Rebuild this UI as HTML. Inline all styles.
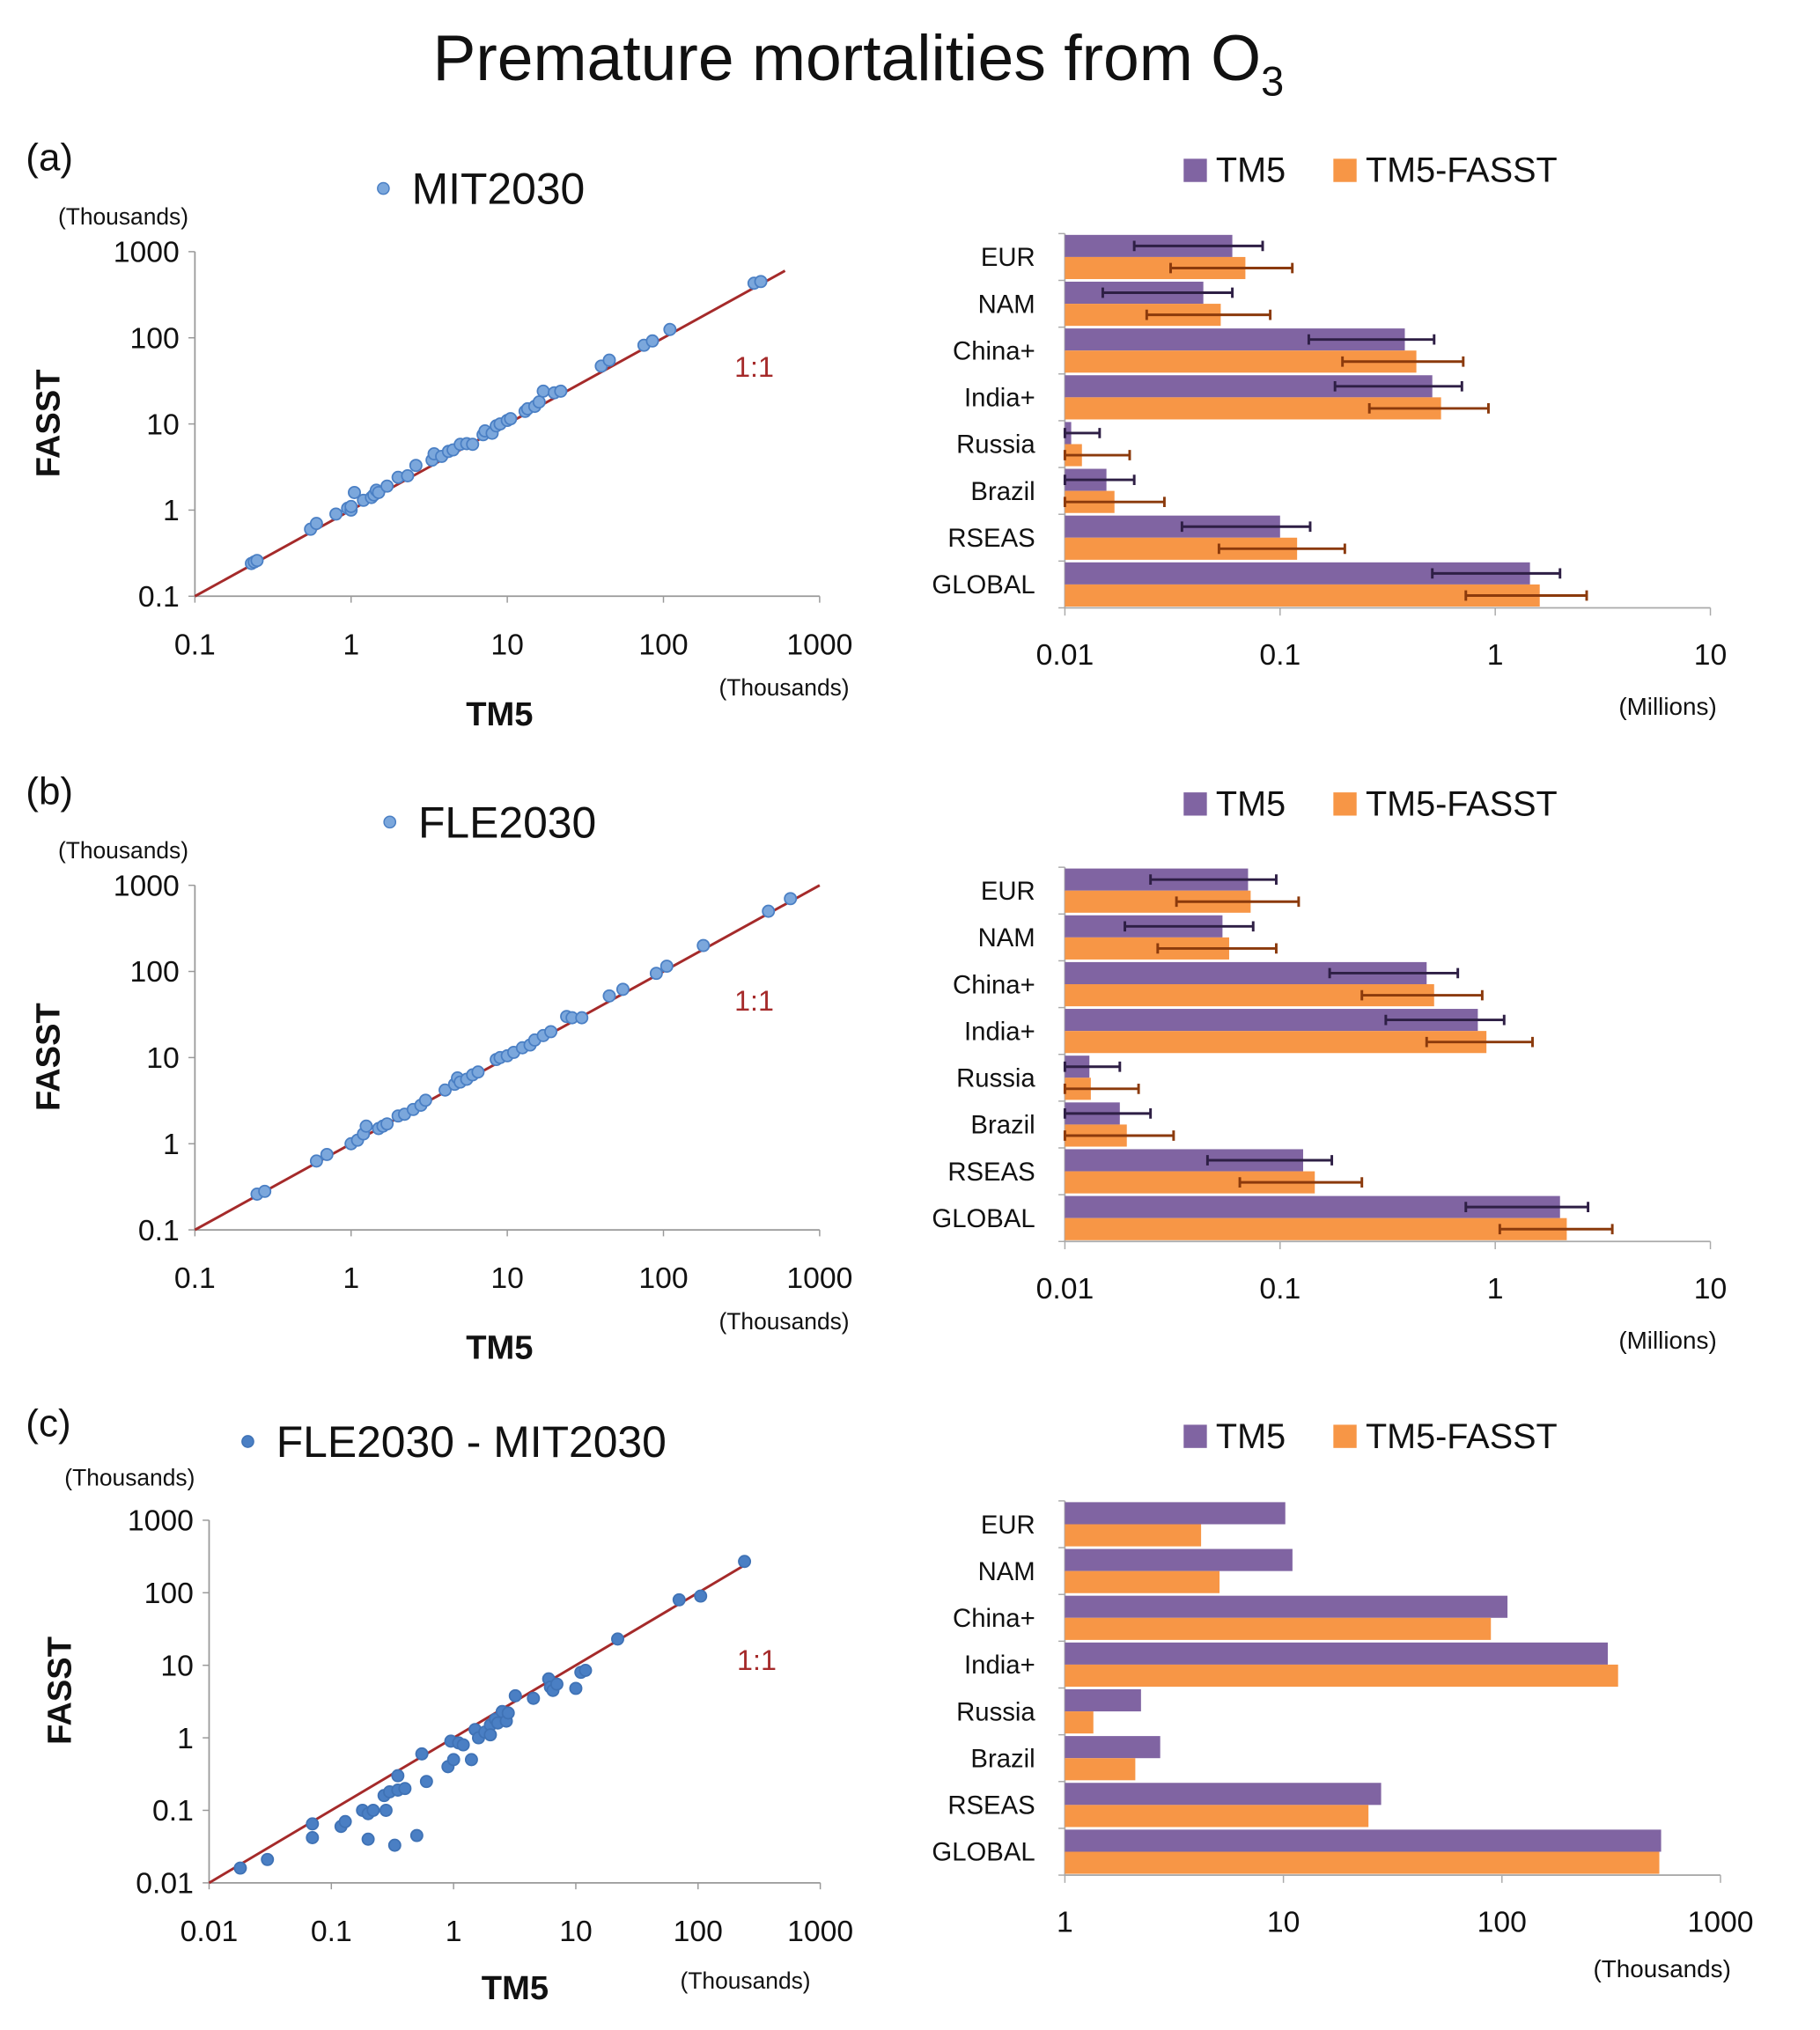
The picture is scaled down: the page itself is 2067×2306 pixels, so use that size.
<!DOCTYPE html>
<html><head><meta charset="utf-8"><style>
html,body{margin:0;padding:0;background:#fff}
svg{display:block;fill:#111}
text{font-family:"Liberation Sans",sans-serif}
</style></head><body>
<svg id="fig" xmlns="http://www.w3.org/2000/svg" width="2067" height="2306" viewBox="0 0 1410 1573">
<text x="665" y="62" font-size="50" text-anchor="middle">Premature mortalities from O<tspan font-size="32" dy="12">3</tspan></text>
</svg>
<script>
// ---------- DATA ----------
const regions = ["EUR","NAM","China+","India+","Russia","Brazil","RSEAS","GLOBAL"];
// panel a (millions)
const aTM5 = [0.060,0.044,0.38,0.51,0.0107,0.0156,0.10,1.45];
const aFASST = [0.069,0.053,0.43,0.56,0.012,0.017,0.12,1.61];
const aTM5Lo = [0.021,0.015,0.136,0.18,0.01,0.01,0.035,0.51];
const aTM5Hi = [0.083,0.060,0.52,0.70,0.0145,0.021,0.138,2.0];
const aFASSTLo = [0.031,0.024,0.195,0.26,0.01,0.01,0.052,0.73];
const aFASSTHi = [0.114,0.090,0.71,0.93,0.02,0.029,0.20,2.66];
// panel b (millions)
const bTM5 = [0.071,0.054,0.48,0.83,0.013,0.018,0.128,2.0];
const bFASST = [0.073,0.058,0.52,0.91,0.0132,0.0194,0.145,2.15];
const bTM5Lo = [0.025,0.019,0.17,0.31,0.01,0.01,0.046,0.73];
const bTM5Hi = [0.096,0.075,0.67,1.1,0.018,0.025,0.174,2.7];
const bFASSTLo = [0.033,0.027,0.24,0.48,0.01,0.01,0.065,1.05];
const bFASSTHi = [0.122,0.096,0.87,1.49,0.022,0.032,0.24,3.5];
// panel c (thousands)
const cTM5 = [10.2,11,106,305,2.23,2.73,28,535];
const cFASST = [4.2,5.1,89,340,1.35,2.1,24.5,525];
// scatter data (thousands)
const aX = [0.23,0.24,0.25,0.55,0.6,0.8,0.95,1.0,1.0,1.05,1.2,1.35,1.4,1.45,1.5,1.7,2.0,2.3,2.6,3.3,3.4,3.8,4.2,4.5,5.0,5.5,6.0,7.0,7.2,8.0,8.5,9,10,10.5,13,13.5,15,16,17,20,22,40,45,75,85,110,380,420];
const aY = [0.24,0.25,0.26,0.6,0.7,0.9,1.05,1.0,1.1,1.6,1.3,1.4,1.5,1.7,1.6,1.9,2.4,2.5,3.3,3.8,4.5,4.2,4.8,5.0,5.8,5.9,5.8,7.5,8.3,7.8,9.5,10,11,11.5,14,15,16,18,24,23,24,47,55,82,92,125,430,450];
const bX = [0.25,0.28,0.6,0.7,1.0,1.1,1.2,1.25,1.5,1.6,1.7,2.0,2.2,2.5,2.8,3.0,4.0,4.6,4.8,5.0,5.5,6,6.5,8.5,9,10,11,12.5,14,15,17,19,24,26,30,45,55,90,105,180,470,650];
const bY = [0.26,0.28,0.63,0.75,1.0,1.1,1.3,1.6,1.5,1.6,1.7,2.1,2.2,2.5,2.8,3.2,4.2,4.9,5.8,5.2,5.6,6.3,6.8,9.5,10,10.5,11.5,13,14,16,18,20,30,29,29,52,62,95,115,200,500,700];
const cX = [0.018,0.03,0.07,0.07,0.12,0.13,0.18,0.2,0.2,0.22,0.28,0.27,0.3,0.35,0.35,0.4,0.33,0.5,0.6,0.55,0.9,0.95,1.0,1.1,1.2,1.4,1.5,1.6,1.8,2.0,2.0,2.2,2.3,2.5,2.7,2.8,3.2,4.5,6,6.2,6.5,7,10,11,12,22,70,105,240];
const cY = [0.016,0.021,0.065,0.042,0.06,0.07,0.1,0.04,0.09,0.1,0.1,0.16,0.18,0.3,0.19,0.2,0.033,0.045,0.25,0.6,0.4,0.9,0.5,0.85,0.8,0.5,1.3,1.0,1.2,1.5,1.1,1.8,1.6,2.3,1.7,2.2,3.8,3.5,6.5,5.0,4.5,5.5,4.8,8,8.5,23,80,90,270];
const sTicksA = ["0.1","1","10","100","1000"];
const sTicksC = ["0.01","0.1","1","10","100","1000"];
const barTicksAB = ["0.01","0.1","1","10"];
const barTicksC = ["1","10","100","1000"];

// ---------- DRAW ----------
const NS="http://www.w3.org/2000/svg";
const svg=document.getElementById('fig');
function el(tag,attrs,parent,txt){const e=document.createElementNS(NS,tag);for(const k in attrs)e.setAttribute(k,attrs[k]);if(txt!==undefined)e.textContent=txt;(parent||svg).appendChild(e);return e;}
function grp(name){const g=el('g',{});return g;}

function scatter(o){
  const g=grp(o.name);
  const lx=v=>o.x0+(Math.log10(v)-o.min)*o.dx;
  const ly=v=>o.y0-(Math.log10(v)-o.min)*o.dy;
  const ticks=o.ticks;
  let t=el('text',{x:o.px,y:o.py,'font-size':30},g,o.letter);
  let c=el('circle',{cx:o.legX,cy:o.legY,r:4.5,fill:o.fill,stroke:o.stroke},g);
  t=el('text',{x:o.legX+22,y:o.legY+12,'font-size':34},g,o.title);
  t=el('text',{x:o.thX,y:o.thY,'font-size':18},g,'(Thousands)');
  const top=ly(Number(ticks[ticks.length-1])),bot=o.y0,right=lx(Number(ticks[ticks.length-1]));
  let ax=el('path',{d:`M${o.x0},${top}V${bot}H${right}`,stroke:'#999',fill:'none','stroke-width':1.2},g);
  ticks.forEach(s=>{const v=Number(s);
    el('line',{x1:o.x0-5,x2:o.x0,y1:ly(v),y2:ly(v),stroke:'#999'},g);
    el('line',{x1:lx(v),x2:lx(v),y1:bot,y2:bot+5,stroke:'#999'},g);
    let a=el('text',{x:o.x0-12,y:ly(v)+8,'font-size':23,'text-anchor':'end'},g,s);
    let b=el('text',{x:lx(v),y:bot+45,'font-size':23,'text-anchor':'middle'},g,s);
  });
  const lineEnd=o.lineEnd;
  let ln=el('line',{x1:o.x0,y1:o.y0,x2:lx(lineEnd),y2:ly(lineEnd),stroke:'#a52a2a','stroke-width':2},g);
  t=el('text',{x:o.oneX,y:o.oneY,'font-size':22,style:'fill:#a52a2a'},g,'1:1');
  o.xs.forEach((xv,i)=>{const p=el('circle',{cx:lx(xv),cy:ly(o.ys[i]),r:4.5,fill:o.fill,stroke:o.stroke,'stroke-width':1.2},g);
    });
  t=el('text',{x:o.tm5X,y:o.tm5Y,'font-size':26,'font-weight':'bold','text-anchor':'middle'},g,'TM5');
  t=el('text',{x:o.thxX,y:o.thxY,'font-size':18,'text-anchor':'end'},g,'(Thousands)');
  t=el('text',{x:0,y:0,'font-size':26,'font-weight':'bold','text-anchor':'middle',transform:`translate(${o.fX},${o.fY}) rotate(-90)`},g,'FASST');
}

function bars(o){
  const g=grp(o.name);
  const lx=v=>o.x0+(Math.log10(v)-o.min)*o.dx;
  const ticks=o.ticks;
  const right=lx(Number(ticks[ticks.length-1]));
  let r=el('rect',{x:917,y:o.legY-18,width:18,height:18,fill:'#8064a2'},g);
  let t=el('text',{x:942,y:o.legY,'font-size':27},g,'TM5');
  r=el('rect',{x:1033,y:o.legY-18,width:18,height:18,fill:'#f79646'},g);
  t=el('text',{x:1058,y:o.legY,'font-size':27},g,'TM5-FASST');
  const ch=(o.y1-o.y0)/regions.length;
  let ax=el('path',{d:`M${o.x0},${o.y0}V${o.y1}H${right}`,stroke:'#aaa',fill:'none','stroke-width':1.2},g);
  for(let i=0;i<=regions.length;i++)el('line',{x1:o.x0-5,x2:o.x0,y1:o.y0+i*ch,y2:o.y0+i*ch,stroke:'#aaa'},g);
  ticks.forEach(s=>{const v=Number(s);
    el('line',{x1:lx(v),x2:lx(v),y1:o.y1,y2:o.y1+6,stroke:'#aaa'},g);
    let a=el('text',{x:lx(v),y:o.y1+44,'font-size':23,'text-anchor':'middle'},g,s);});
  const bh=(ch-2)/2;
  regions.forEach((reg,i)=>{
    const yy=o.y0+i*ch+1;
    let l=el('text',{x:802,y:yy+bh+7,'font-size':20,'text-anchor':'end'},g,reg);
    let b1=el('rect',{x:o.x0,y:yy,width:lx(o.p[i])-o.x0,height:bh,fill:'#8064a2'},g);
    let b2=el('rect',{x:o.x0,y:yy+bh,width:lx(o.q[i])-o.x0,height:bh,fill:'#f79646'},g);
    if(o.pLo){
      [[o.pLo[i],o.pHi[i],yy+bh/2,'#2e1f45'],[o.qLo[i],o.qHi[i],yy+bh*1.5,'#8b3a0c']].forEach(([lo,hi,cy,col],k)=>{
        const e=el('path',{d:`M${lx(lo)},${cy}H${lx(hi)}M${lx(lo)},${cy-4}V${cy+4}M${lx(hi)},${cy-4}V${cy+4}`,stroke:col,'stroke-width':2,fill:'none'},g);
        
      });
    }
  });
  t=el('text',{x:o.unitX,y:o.unitY,'font-size':19,'text-anchor':'end'},g,o.unit);
}

scatter({name:'scatter-a',letter:'(a)',px:20,py:132,legX:297,legY:146,title:'MIT2030',thX:45,thY:174,x0:151,y0:462,min:-1,dx:121,dy:66.75,ticks:sTicksA,lineEnd:600,oneX:569,oneY:292,xs:aX,ys:aY,fill:'#7ba7dc',stroke:'#4a7fc4',tm5X:387,tm5Y:562,thxX:658,thxY:539,fX:46,fY:328});
scatter({name:'scatter-b',letter:'(b)',px:20,py:623,legX:302,legY:637,title:'FLE2030',thX:45,thY:665,x0:151,y0:953,min:-1,dx:121,dy:66.75,ticks:sTicksA,lineEnd:1000,oneX:569,oneY:783,xs:bX,ys:bY,fill:'#7ba7dc',stroke:'#4a7fc4',tm5X:387,tm5Y:1053,thxX:658,thxY:1030,fX:46,fY:819});
scatter({name:'scatter-c',letter:'(c)',px:20,py:1113,legX:192,legY:1117,title:'FLE2030 - MIT2030',thX:50,thY:1151,x0:162,y0:1459,min:-2,dx:94.7,dy:56.2,ticks:sTicksC,lineEnd:240,oneX:571,oneY:1294,xs:cX,ys:cY,fill:'#4a7fc4',stroke:'#3f72b5',tm5X:399,tm5Y:1549,thxX:628,thxY:1541,fX:55,fY:1310});

bars({name:'bar-chart-a',legY:141,x0:825,min:-2,dx:166.7,y0:181,y1:471,ticks:barTicksAB,p:aTM5,q:aFASST,pLo:aTM5Lo,pHi:aTM5Hi,qLo:aFASSTLo,qHi:aFASSTHi,unit:'(Millions)',unitX:1330,unitY:554});
bars({name:'bar-chart-b',legY:632,x0:825,min:-2,dx:166.7,y0:672,y1:962,ticks:barTicksAB,p:bTM5,q:bFASST,pLo:bTM5Lo,pHi:bTM5Hi,qLo:bFASSTLo,qHi:bFASSTHi,unit:'(Millions)',unitX:1330,unitY:1045});
bars({name:'bar-chart-c',legY:1122,x0:825,min:0,dx:169.3,y0:1163,y1:1453,ticks:barTicksC,p:cTM5,q:cFASST,unit:'(Thousands)',unitX:1341,unitY:1532});
</script>
</body></html>
